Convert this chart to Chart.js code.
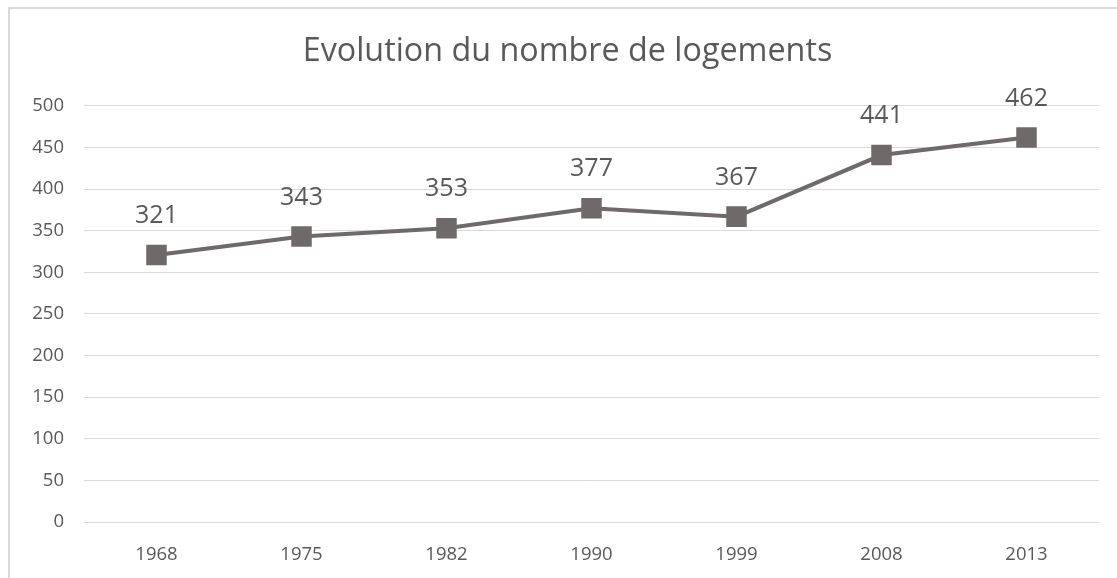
<!DOCTYPE html>
<html>
<head>
<meta charset="utf-8">
<script src="https://cdn.jsdelivr.net/npm/chart.js@4"></script>
<style>
  html, body { margin: 0; padding: 0; background: #ffffff; }
  #wrap { position: relative; width: 1117px; height: 578px; overflow: hidden; }
  #frame { position: absolute; left: 8px; top: 7px; width: 1300px; height: 800px; border: 2px solid #d9d9d9; box-sizing: border-box; }
  canvas { position: absolute; left: 0; top: 0; }
</style>
</head>
<body>
<div id="wrap">
  <div id="frame"></div>
  <canvas id="c" width="1117" height="578"></canvas>
</div>
<script>
const categories = ["1968", "1975", "1982", "1990", "1999", "2008", "2013"];
const logements = [321, 343, 353, 377, 367, 441, 462];
const yTicks = [0, 50, 100, 150, 200, 250, 300, 350, 400, 450, 500];
const chartTitle = "Evolution du nombre de logements";

const FONT = "'Open Sans', 'Liberation Sans', sans-serif";
const TXT = "#595959";

const labelPlugin = {
  id: 'pointLabels',
  afterDatasetsDraw(chart) {
    const ctx = chart.ctx;
    const meta = chart.getDatasetMeta(0);
    ctx.save();
    ctx.font = "25px " + FONT;
    ctx.fillStyle = TXT;
    ctx.textAlign = "center";
    ctx.textBaseline = "middle";
    meta.data.forEach((pt, i) => {
      ctx.fillText(String(logements[i]), pt.x, pt.y - 39);
    });
    ctx.restore();
  }
};

new Chart(document.getElementById('c'), {
  type: 'line',
  data: {
    labels: categories,
    datasets: [{
      data: logements,
      borderColor: '#6e6a6a',
      backgroundColor: '#6e6a6a',
      borderWidth: 4,
      pointStyle: 'rect',
      pointRadius: 14.5,
      pointHoverRadius: 14.5,
      pointBorderWidth: 0,
      tension: 0
    }]
  },
  options: {
    responsive: false,
    animation: false,
    events: [],
    layout: { padding: { left: 18, right: 0, top: 0, bottom: 0 } },
    plugins: {
      legend: { display: false },
      tooltip: { enabled: false },
      title: {
        display: true,
        text: chartTitle,
        color: TXT,
        font: { family: FONT, size: 32.3, weight: 'normal' },
        padding: { top: 32, bottom: 35.2 }
      }
    },
    scales: {
      x: {
        offset: true,
        grid: { display: false, drawTicks: false },
        border: { display: false },
        ticks: { color: TXT, font: { family: FONT, size: 18.5 }, padding: 22, maxRotation: 0 },
        afterFit(s) { s.height = 56; }
      },
      y: {
        min: 0,
        max: 500,
        afterBuildTicks(s) { s.ticks = yTicks.map(v => ({ value: v })); },
        grid: { color: '#d9d9d9', lineWidth: 1, drawTicks: false },
        border: { display: false },
        ticks: { color: TXT, font: { family: FONT, size: 18.5 }, padding: 20 },
        afterFit(s) { s.width = 66; }
      },
      yRight: {
        position: 'right',
        display: true,
        min: 0,
        max: 500,
        grid: { display: false, drawTicks: false },
        border: { display: false },
        ticks: { display: false },
        afterFit(s) { s.width = 18; }
      }
    }
  },
  plugins: [labelPlugin]
});
</script>
</body>
</html>
